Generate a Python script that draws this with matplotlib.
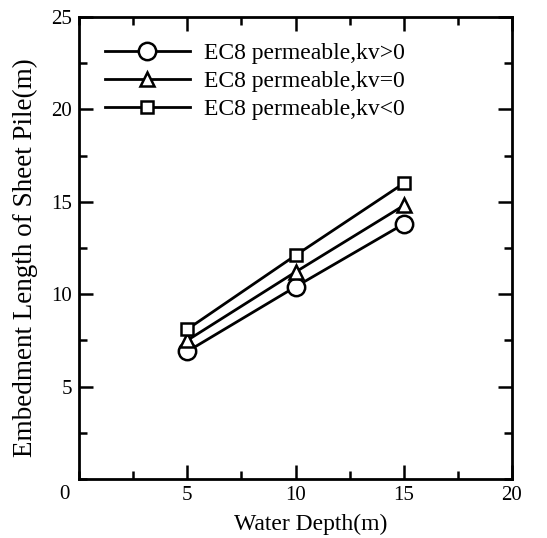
import numpy as np
import matplotlib.pyplot as plt
from matplotlib.ticker import MultipleLocator

plt.rcParams['font.family'] = ['Liberation Serif', 'DejaVu Serif']

depth = [5, 10, 15]
kv_pos = [6.9, 10.4, 13.8]
kv_zero = [7.5, 11.2, 14.8]
kv_neg = [8.1, 12.1, 16.0]
labels = ['EC8 permeable,kv>0', 'EC8 permeable,kv=0', 'EC8 permeable,kv<0']

fig = plt.figure(figsize=(5.47, 5.38), dpi=100)
# axes box: left 79px, right 512px, top 17px, bottom 479px
ax = fig.add_axes([79 / 547, 59 / 538, 433 / 547, 462 / 538])

style = dict(color='black', lw=2, markerfacecolor='white', markeredgecolor='black',
             markeredgewidth=1.8)
ax.plot(depth, kv_pos, marker='o', markersize=12.5, label=labels[0], **style)
ax.plot(depth, kv_zero, marker='^', markersize=10, label=labels[1], **style)
ax.plot(depth, kv_neg, marker='s', markersize=9, label=labels[2], **style)

ax.set_xlim(0, 20)
ax.set_ylim(0, 25)
ax.xaxis.set_minor_locator(MultipleLocator(2.5))
ax.yaxis.set_minor_locator(MultipleLocator(2.5))
ax.tick_params(which='both', direction='in', top=True, right=True, labelsize=15,
               width=1.8, pad=5)
ax.tick_params(which='major', length=10)
ax.tick_params(which='minor', length=6)
ax.set_xticks([5, 10, 15, 20])
ax.set_yticks([5, 10, 15, 20, 25])
ax.text(-0.022, -0.012, '0', transform=ax.transAxes, ha='right', va='top', fontsize=15)
for s in ax.spines.values():
    s.set_linewidth(2)

ax.set_xlabel('Water Depth(m)', fontsize=17)
ax.xaxis.set_label_coords(0.535, -0.075)
ax.set_ylabel('Embedment Length of Sheet Pile(m)', fontsize=19.5)
ax.yaxis.set_label_coords(-0.095, 0.48)

ax.legend(loc='upper left', frameon=False, fontsize=17, handlelength=3.6,
          handletextpad=0.6, labelspacing=0.26, borderaxespad=0.7, borderpad=0.4)

fig.savefig('out.png', dpi=100)
